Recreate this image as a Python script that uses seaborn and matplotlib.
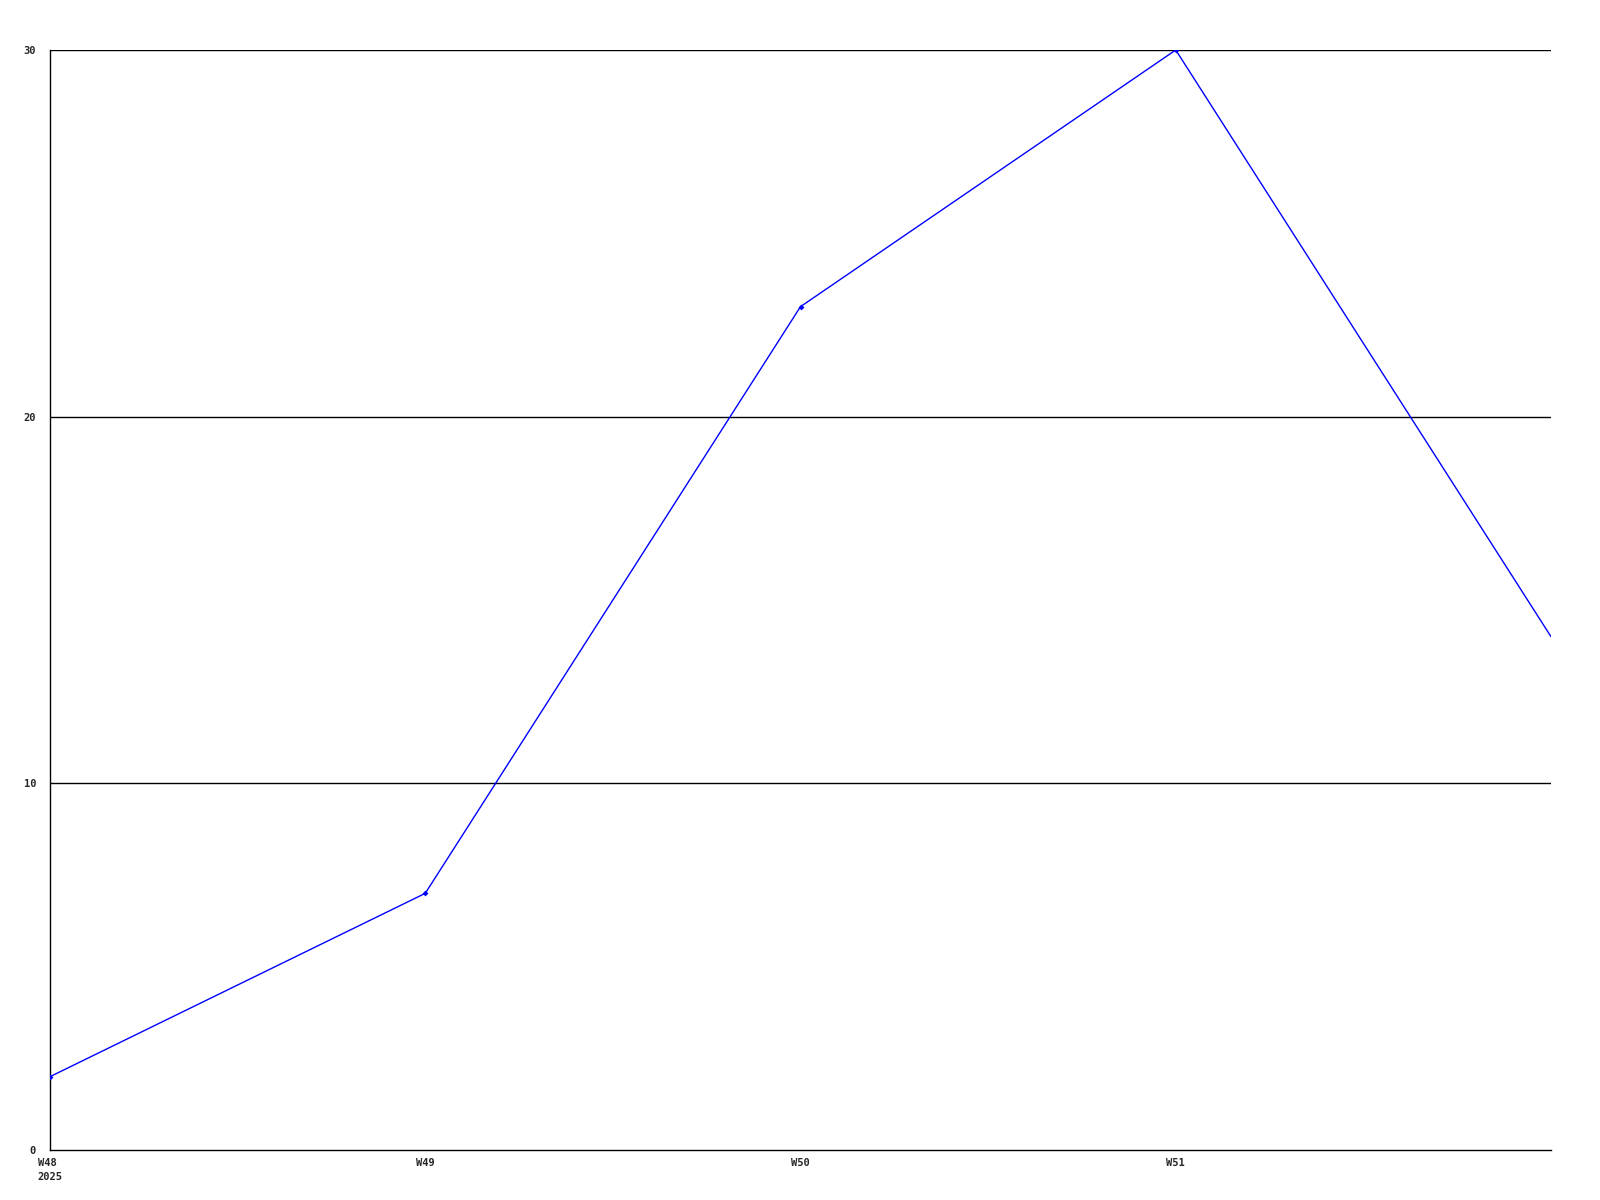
import matplotlib
matplotlib.use("Agg")
import matplotlib.pyplot as plt
import seaborn as sns
import pandas as pd

weeks = ["W48", "W49", "W50", "W51", "W52"]
tick_labels = ["W48\n2025", "W49", "W50", "W51"]
values = [2, 7, 23, 30, 14]
y_ticks = [0, 10, 20, 30]

sns.set_theme(style="white")
plt.rcParams['font.family'] = ['DejaVu Sans Mono']

df = pd.DataFrame({"pos": range(len(weeks)), "week": weeks, "value": values})

fig = plt.figure(figsize=(16, 12), dpi=100)
ax = fig.add_axes([50/1600, 1 - 1150/1200, 1501/1600, 1100/1200])

for yv in y_ticks[1:]:
    ax.axhline(yv, color="black", linewidth=1, zorder=1)

sns.lineplot(data=df, x="pos", y="value", ax=ax, color="#0000ff", linewidth=1,
             marker="D", markersize=3, markeredgewidth=0, zorder=3,
             markevery=list(range(len(weeks) - 1)))

ax.set_xlim(0, len(weeks) - 1)
ax.set_ylim(0, 30)
ax.set_xticks(range(len(tick_labels)))
ax.set_xticklabels(tick_labels, fontsize=7.5, fontweight="bold",
                   multialignment="left", linespacing=1.5)
ax.set_yticks(y_ticks)
ax.set_yticklabels([str(v) for v in y_ticks], fontsize=7.5, fontweight="bold")
ax.tick_params(axis="both", length=0)
ax.tick_params(axis="y", pad=10)
ax.tick_params(axis="x", pad=6)
ax.set_xlabel("")
ax.set_ylabel("")
for s in ["top", "right"]:
    ax.spines[s].set_visible(False)
for s in ["left", "bottom"]:
    ax.spines[s].set_color("black")
    ax.spines[s].set_linewidth(1)

fig.savefig("out.png", dpi=100, facecolor="white")
